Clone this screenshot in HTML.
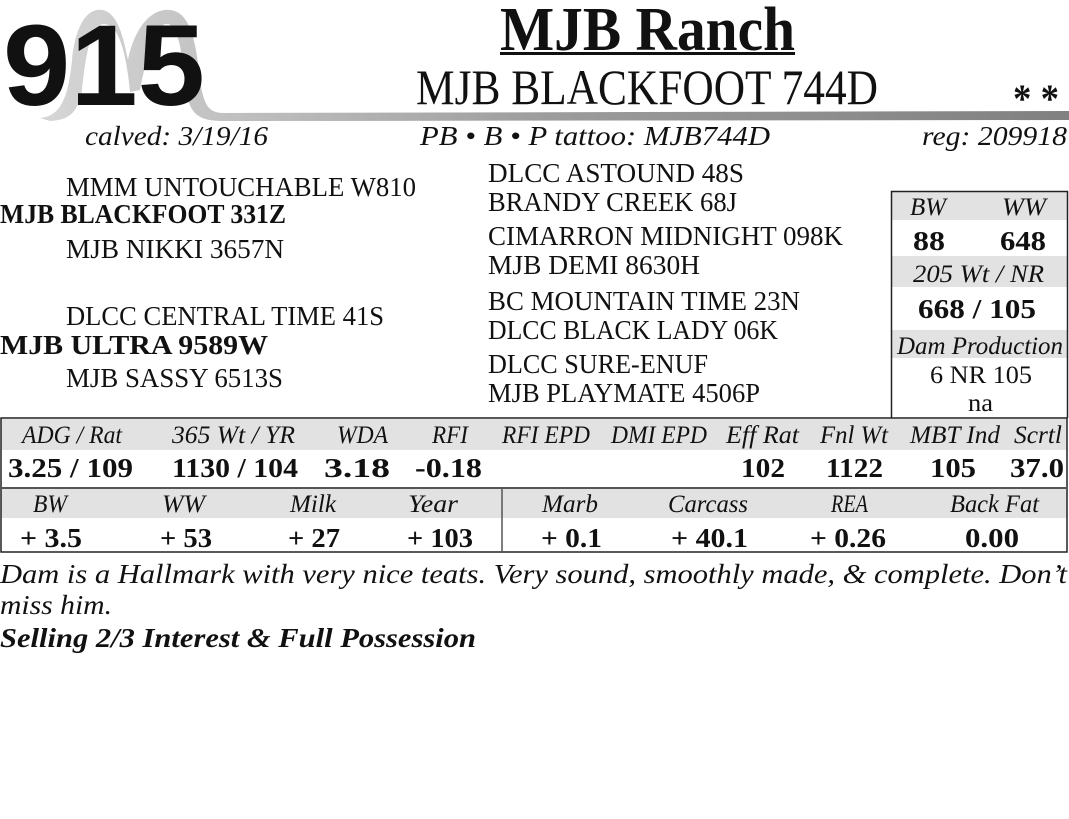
<!DOCTYPE html>
<html><head><meta charset="utf-8"><style>
html,body{margin:0;padding:0;background:#fff;width:1069px;height:819px;overflow:hidden}
svg{display:block}
text{font-family:"Liberation Serif",serif;fill:#111}
.p{font-size:27px}
.b{font-weight:bold}
.i{font-style:italic}
</style></head><body>
<svg width="1069" height="819" viewBox="0 0 1069 819" xmlns="http://www.w3.org/2000/svg">
<defs>
<linearGradient id="bar" x1="0" x2="1" y1="0" y2="0">
<stop offset="0" stop-color="#cfcfcf"/><stop offset="0.5" stop-color="#8a8a8a"/><stop offset="1" stop-color="#6a6a6a"/>
</linearGradient>
</defs>
<path d="M40 118 C60 116 68 100 72 60 C76 20 90 8 102 10 C118 12 124 40 128 60 C134 30 150 8 170 10 C190 12 196 40 200 80 C204 108 210 113 225 113 L1069 111 L1069 120 L225 121 C200 121 190 116 186 90 C182 50 178 26 168 24 C156 22 148 50 140 90 L130 92 C126 50 118 24 104 24 C92 24 86 50 82 90 C78 112 70 120 50 121 Z" fill="url(#bar)" opacity="0.85"/>
<text x="3" y="105" style="font-family:'Liberation Sans',sans-serif;font-weight:bold;font-size:115px" textLength="202" lengthAdjust="spacingAndGlyphs">915</text>
<text x="500" y="50" class="b" style="font-size:62px" textLength="295" lengthAdjust="spacingAndGlyphs">MJB Ranch</text>
<rect x="500" y="52" width="295" height="3" fill="#111"/>
<text x="416" y="104" style="font-size:50px" textLength="462" lengthAdjust="spacingAndGlyphs">MJB BLACKFOOT 744D</text>
<text x="1013" y="112" class="b" style="font-size:40px" textLength="46" lengthAdjust="spacingAndGlyphs">* *</text>
<text x="85" y="145" class="i" style="font-size:27px" textLength="183" lengthAdjust="spacingAndGlyphs">calved: 3/19/16</text>
<text x="420" y="145" class="i" style="font-size:27px" textLength="350" lengthAdjust="spacingAndGlyphs">PB • B • P   tattoo: MJB744D</text>
<text x="922" y="145" class="i" style="font-size:27px" textLength="145" lengthAdjust="spacingAndGlyphs">reg: 209918</text>

<text x="66" y="196" class="p" textLength="350" lengthAdjust="spacingAndGlyphs">MMM UNTOUCHABLE W810</text>
<text x="0" y="223" class="p b" textLength="286" lengthAdjust="spacingAndGlyphs">MJB BLACKFOOT 331Z</text>
<text x="66" y="258" class="p" textLength="218" lengthAdjust="spacingAndGlyphs">MJB NIKKI 3657N</text>
<text x="66" y="325" class="p" textLength="318" lengthAdjust="spacingAndGlyphs">DLCC CENTRAL TIME 41S</text>
<text x="0" y="354" class="p b" textLength="268" lengthAdjust="spacingAndGlyphs">MJB ULTRA 9589W</text>
<text x="66" y="387" class="p" textLength="217" lengthAdjust="spacingAndGlyphs">MJB SASSY 6513S</text>

<text x="488" y="182" class="p" textLength="256" lengthAdjust="spacingAndGlyphs">DLCC ASTOUND 48S</text>
<text x="488" y="211" class="p" textLength="249" lengthAdjust="spacingAndGlyphs">BRANDY CREEK 68J</text>
<text x="488" y="245" class="p" textLength="355" lengthAdjust="spacingAndGlyphs">CIMARRON MIDNIGHT 098K</text>
<text x="488" y="274" class="p" textLength="212" lengthAdjust="spacingAndGlyphs">MJB DEMI 8630H</text>
<text x="488" y="310" class="p" textLength="312" lengthAdjust="spacingAndGlyphs">BC MOUNTAIN TIME 23N</text>
<text x="488" y="339" class="p" textLength="290" lengthAdjust="spacingAndGlyphs">DLCC BLACK LADY 06K</text>
<text x="488" y="373" class="p" textLength="220" lengthAdjust="spacingAndGlyphs">DLCC SURE-ENUF</text>
<text x="488" y="402" class="p" textLength="272" lengthAdjust="spacingAndGlyphs">MJB PLAYMATE 4506P</text>

<rect x="892" y="192" width="175" height="28" fill="#e2e2e2"/>
<rect x="892" y="256" width="175" height="31" fill="#e2e2e2"/>
<rect x="892" y="330" width="175" height="28" fill="#e2e2e2"/>
<path d="M891.5 418 V191.5 H1067.5 V418" fill="none" stroke="#222" stroke-width="1.5"/>
<text x="910" y="215" class="i" style="font-size:25px" textLength="36" lengthAdjust="spacingAndGlyphs">BW</text>
<text x="1002" y="215" class="i" style="font-size:25px" textLength="44" lengthAdjust="spacingAndGlyphs">WW</text>
<text x="913" y="250" class="b" style="font-size:27px" textLength="32" lengthAdjust="spacingAndGlyphs">88</text>
<text x="1000" y="250" class="b" style="font-size:27px" textLength="46" lengthAdjust="spacingAndGlyphs">648</text>
<text x="913" y="282" class="i" style="font-size:25px" textLength="131" lengthAdjust="spacingAndGlyphs">205 Wt / NR</text>
<text x="918" y="318" class="b" style="font-size:27px" textLength="118" lengthAdjust="spacingAndGlyphs">668 / 105</text>
<text x="897" y="354" class="i" style="font-size:25px" textLength="166" lengthAdjust="spacingAndGlyphs">Dam Production</text>
<text x="930" y="383" style="font-size:25px" textLength="102" lengthAdjust="spacingAndGlyphs">6 NR 105</text>
<text x="968" y="411" style="font-size:25px" textLength="25" lengthAdjust="spacingAndGlyphs">na</text>

<rect x="1" y="419" width="1066" height="31" fill="#e2e2e2"/>
<rect x="1" y="489" width="1066" height="29" fill="#e2e2e2"/>
<rect x="1" y="418" width="1066" height="134" fill="none" stroke="#222" stroke-width="1.5"/>
<line x1="1" y1="488" x2="1067" y2="488" stroke="#555" stroke-width="2"/>
<line x1="502" y1="488" x2="502" y2="552" stroke="#555" stroke-width="1.5"/>
<text x="22" y="443" class="i" style="font-size:25px" textLength="100" lengthAdjust="spacingAndGlyphs">ADG / Rat</text>
<text x="172" y="443" class="i" style="font-size:25px" textLength="123" lengthAdjust="spacingAndGlyphs">365 Wt / YR</text>
<text x="337" y="443" class="i" style="font-size:25px" textLength="51" lengthAdjust="spacingAndGlyphs">WDA</text>
<text x="432" y="443" class="i" style="font-size:25px" textLength="36" lengthAdjust="spacingAndGlyphs">RFI</text>
<text x="502" y="443" class="i" style="font-size:25px" textLength="88" lengthAdjust="spacingAndGlyphs">RFI EPD</text>
<text x="611" y="443" class="i" style="font-size:25px" textLength="96" lengthAdjust="spacingAndGlyphs">DMI EPD</text>
<text x="726" y="443" class="i" style="font-size:25px" textLength="73" lengthAdjust="spacingAndGlyphs">Eff Rat</text>
<text x="820" y="443" class="i" style="font-size:25px" textLength="68" lengthAdjust="spacingAndGlyphs">Fnl Wt</text>
<text x="910" y="443" class="i" style="font-size:25px" textLength="90" lengthAdjust="spacingAndGlyphs">MBT Ind</text>
<text x="1014" y="443" class="i" style="font-size:25px" textLength="48" lengthAdjust="spacingAndGlyphs">Scrtl</text>
<text x="33" y="512" class="i" style="font-size:25px" textLength="34" lengthAdjust="spacingAndGlyphs">BW</text>
<text x="162" y="512" class="i" style="font-size:25px" textLength="43" lengthAdjust="spacingAndGlyphs">WW</text>
<text x="290" y="512" class="i" style="font-size:25px" textLength="46" lengthAdjust="spacingAndGlyphs">Milk</text>
<text x="408" y="512" class="i" style="font-size:25px" textLength="50" lengthAdjust="spacingAndGlyphs">Year</text>
<text x="542" y="512" class="i" style="font-size:25px" textLength="56" lengthAdjust="spacingAndGlyphs">Marb</text>
<text x="668" y="512" class="i" style="font-size:25px" textLength="80" lengthAdjust="spacingAndGlyphs">Carcass</text>
<text x="831" y="512" class="i" style="font-size:25px" textLength="37" lengthAdjust="spacingAndGlyphs">REA</text>
<text x="950" y="512" class="i" style="font-size:25px" textLength="89" lengthAdjust="spacingAndGlyphs">Back Fat</text>
<text x="8" y="477" class="b" style="font-size:27px" textLength="125" lengthAdjust="spacingAndGlyphs">3.25 / 109</text>
<text x="172" y="477" class="b" style="font-size:27px" textLength="126" lengthAdjust="spacingAndGlyphs">1130 / 104</text>
<text x="324" y="477" class="b" style="font-size:27px" textLength="66" lengthAdjust="spacingAndGlyphs">3.18</text>
<text x="415" y="477" class="b" style="font-size:27px" textLength="67" lengthAdjust="spacingAndGlyphs">-0.18</text>
<text x="741" y="477" class="b" style="font-size:27px" textLength="44" lengthAdjust="spacingAndGlyphs">102</text>
<text x="826" y="477" class="b" style="font-size:27px" textLength="57" lengthAdjust="spacingAndGlyphs">1122</text>
<text x="930" y="477" class="b" style="font-size:27px" textLength="46" lengthAdjust="spacingAndGlyphs">105</text>
<text x="1010" y="477" class="b" style="font-size:27px" textLength="54" lengthAdjust="spacingAndGlyphs">37.0</text>
<text x="20" y="547" class="b" style="font-size:27px" textLength="62" lengthAdjust="spacingAndGlyphs">+ 3.5</text>
<text x="160" y="547" class="b" style="font-size:27px" textLength="52" lengthAdjust="spacingAndGlyphs">+ 53</text>
<text x="288" y="547" class="b" style="font-size:27px" textLength="52" lengthAdjust="spacingAndGlyphs">+ 27</text>
<text x="407" y="547" class="b" style="font-size:27px" textLength="66" lengthAdjust="spacingAndGlyphs">+ 103</text>
<text x="541" y="547" class="b" style="font-size:27px" textLength="61" lengthAdjust="spacingAndGlyphs">+ 0.1</text>
<text x="671" y="547" class="b" style="font-size:27px" textLength="77" lengthAdjust="spacingAndGlyphs">+ 40.1</text>
<text x="810" y="547" class="b" style="font-size:27px" textLength="76" lengthAdjust="spacingAndGlyphs">+ 0.26</text>
<text x="965" y="547" class="b" style="font-size:27px" textLength="54" lengthAdjust="spacingAndGlyphs">0.00</text>

<text x="0" y="583" class="i" style="font-size:27px" textLength="1067" lengthAdjust="spacingAndGlyphs">Dam is a Hallmark with very nice teats.  Very sound, smoothly made, &amp; complete.  Don’t</text>
<text x="0" y="614" class="i" style="font-size:27px" textLength="112" lengthAdjust="spacingAndGlyphs">miss him.</text>
<text x="0" y="647" class="i b" style="font-size:27px" textLength="476" lengthAdjust="spacingAndGlyphs">Selling 2/3 Interest &amp; Full Possession</text>
</svg>
</body></html>
